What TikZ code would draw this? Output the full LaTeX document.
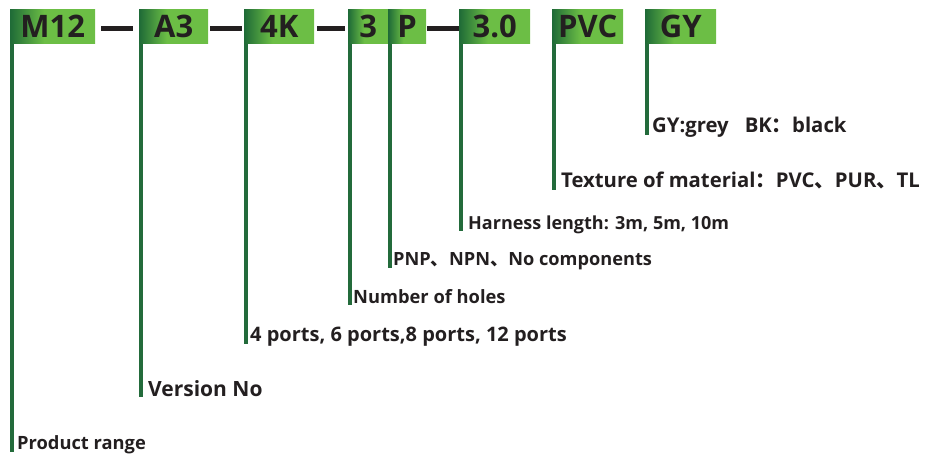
\documentclass[tikz,border=0pt]{standalone}
\usepackage{fontspec}
\setmainfont{Open Sans}
\newfontfamily\cjk{Noto Sans CJK SC}
\definecolor{gd}{HTML}{1F6B37}
\definecolor{gl}{HTML}{6CBE45}
\definecolor{ink}{HTML}{231F20}
\definecolor{lead}{HTML}{236B3B}
\pgfdeclarehorizontalshading{boxgrad}{100bp}{color(0bp)=(gd); color(25bp)=(gd); color(45bp)=(gl); color(100bp)=(gl)}
\newcommand{\cj}[1]{{\cjk #1}}
\begin{document}
\begin{tikzpicture}[x=1bp,y=-1bp,
  codebox/.style={anchor=west, shading=boxgrad, minimum height=34.5bp, inner sep=0pt,
    text=ink, font=\fontsize{31bp}{31bp}\selectfont\bfseries},
  dashbar/.style={draw=ink, line width=5bp},
  leadline/.style={draw=lead, line width=3.5bp},
  lbl/.style={anchor=base west, inner sep=0pt, text=ink, font=\fontsize{#1}{#1}\selectfont\bfseries},
  lbl/.default=17bp]
\useasboundingbox (0,0) rectangle (927,457);
% code boxes
\node[codebox, minimum width=85bp] (m12) at (10,26.75) {M12};
\node[codebox, minimum width=69bp] (a3) at (139,26.75) {A3};
\node[codebox, minimum width=70bp] (k4) at (244,26.75) {4K};
\node[codebox, minimum width=40bp] (n3) at (348,26.75) {3};
\node[codebox, minimum width=38bp] (p) at (388,26.75) {P};
\node[codebox, minimum width=71bp] (len) at (459,26.75) {3.0};
\node[codebox, minimum width=71bp] (pvc) at (552,26.75) {PVC};
\node[codebox, minimum width=71bp] (gy) at (645,26.75) {GY};
% dashes
\draw[dashbar] ([xshift=6bp,yshift=-1.5bp]m12.east) -- ([xshift=-6bp,yshift=-1.5bp]a3.west);
\draw[dashbar] ([xshift=2bp,yshift=-1.5bp]a3.east) -- ([xshift=-2bp,yshift=-1.5bp]k4.west);
\draw[dashbar] ([xshift=3bp,yshift=-1.5bp]k4.east) -- ([xshift=-3bp,yshift=-1.5bp]n3.west);
\draw[dashbar] ([xshift=1bp,yshift=-1.5bp]p.east) -- ([yshift=-1.5bp]len.west);
% lead end points
\coordinate (e1) at (11.75,452);
\coordinate (e2) at (140.75,397);
\coordinate (e3) at (245.75,344);
\coordinate (e4) at (349.75,305);
\coordinate (e5) at (389.75,268);
\coordinate (e6) at (460.75,231);
\coordinate (e7) at (553.75,190);
\coordinate (e8) at (646.75,135);
% lead lines
\draw[leadline] (m12.south west -| e1) -- (e1);
\draw[leadline] (a3.south west -| e2) -- (e2);
\draw[leadline] (k4.south west -| e3) -- (e3);
\draw[leadline] (n3.south west -| e4) -- (e4);
\draw[leadline] (p.south west -| e5) -- (e5);
\draw[leadline] (len.south west -| e6) -- (e6);
\draw[leadline] (pvc.south west -| e7) -- (e7);
\draw[leadline] (gy.south west -| e8) -- (e8);
% labels
\node[lbl=18.3bp] (t1) at (17,449) {Product range};
\node[lbl=21bp] (t2) at (148,396) {Version No};
\node[lbl=20bp] (t3) at (250,342) {4 ports, 6 ports,8 ports, 12 ports};
\node[lbl=18.3bp] (t4) at (353,304) {Number of holes};
\node[lbl=18.2bp] (t5) at (393,266) {PNP\cj{、}NPN\cj{、}No components};
\node[lbl=18bp] (t6) at (468,230) {Harness length: 3m, 5m, 10m};
\node[lbl=20.3bp] (t7) at (561,188) {Texture of material\cj{：}PVC\cj{、}PUR\cj{、}TL};
\node[lbl=20.3bp] (t8) at (652,133) {GY:grey\hspace{16bp}BK\cj{：}black};
\end{tikzpicture}
\end{document}
